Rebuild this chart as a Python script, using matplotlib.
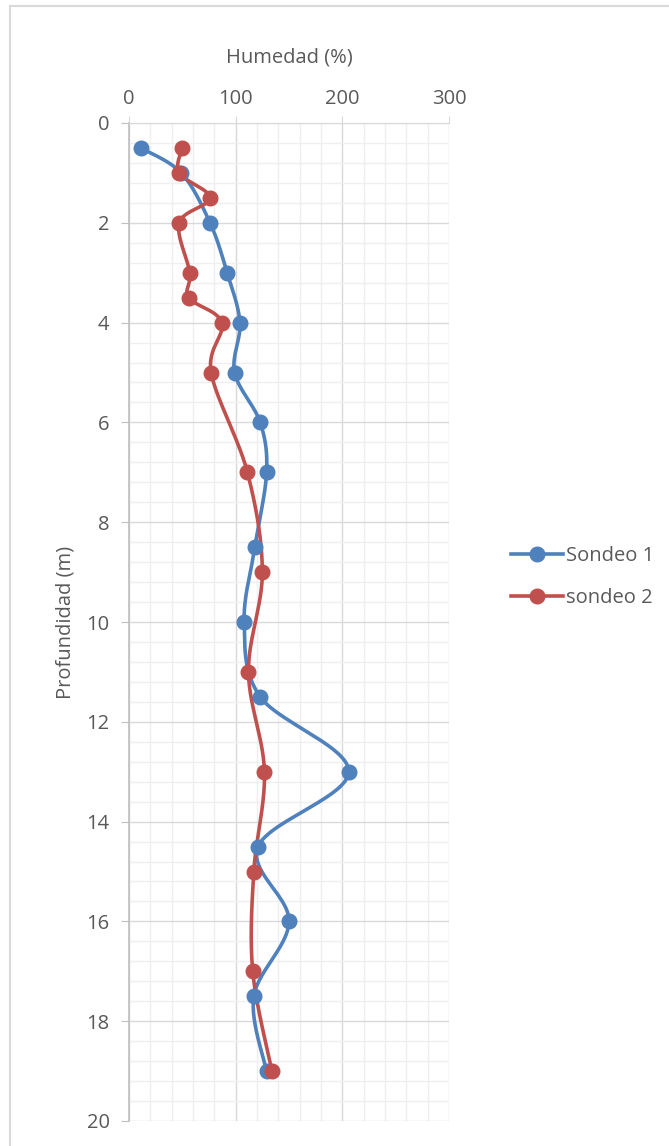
import numpy as np
import matplotlib
matplotlib.use("Agg")
import matplotlib.pyplot as plt
from matplotlib.ticker import MultipleLocator
from matplotlib.lines import Line2D

# Data
depth1 = [0.5, 1.0, 2.0, 3.0, 4.0, 5.0, 6.0, 7.0, 8.5, 10.0, 11.5, 13.0, 14.5, 16.0, 17.5, 19.0]
hum1 = [11, 49, 76, 92, 104, 99, 123, 129, 118, 108, 123, 206, 121, 150, 117, 129]
depth2 = [0.5, 1.0, 1.5, 2.0, 3.0, 3.5, 4.0, 5.0, 7.0, 9.0, 11.0, 13.0, 15.0, 17.0, 19.0]
hum2 = [50, 47, 76, 47, 57, 56, 87, 77, 111, 125, 112, 127, 117, 116, 134]
labels = ["Sondeo 1", "sondeo 2"]
colors = ["#4F81BD", "#C0504D"]

FONT = ["Open Sans", "DejaVu Sans"]
plt.rcParams['font.family'] = FONT
TXT = "#595959"
FS = 14.5

W, H = 669, 1146
fig = plt.figure(figsize=(W / 100, H / 100), dpi=100)
ax = fig.add_axes([129 / W, 1 - 1121 / H, (449 - 129) / W, (1121 - 123) / H])
ax.set_xlim(0, 300)
ax.set_ylim(20, 0)

# outer chart border (top & left visible)
fig.add_artist(Line2D([9.5 / W, 9.5 / W], [0, 1 - 5.5 / H], transform=fig.transFigure,
                      color="#D9D9D9", lw=1.5))
fig.add_artist(Line2D([9.5 / W, 1], [1 - 5.5 / H, 1 - 5.5 / H], transform=fig.transFigure,
                      color="#D9D9D9", lw=1.5))

ax.xaxis.set_major_locator(MultipleLocator(100))
ax.xaxis.set_minor_locator(MultipleLocator(20))
ax.yaxis.set_major_locator(MultipleLocator(2))
ax.yaxis.set_minor_locator(MultipleLocator(0.4))
ax.grid(which="major", color="#D9D9D9", lw=1.0)
ax.grid(which="minor", color="#EFEFEF", lw=1.0)
ax.set_axisbelow(True)
for s in ax.spines.values():
    s.set_visible(False)
ax.spines['left'].set_visible(True)
ax.spines['left'].set_color("#BFBFBF")
ax.spines['left'].set_linewidth(1.2)
ax.spines['top'].set_visible(True)
ax.spines['top'].set_color("#D9D9D9")

ax.xaxis.tick_top()
ax.xaxis.set_label_position("top")
ax.tick_params(axis="x", which="major", length=5, color="#D9D9D9", labelsize=FS, labelcolor=TXT, pad=5)
ax.tick_params(axis="y", which="major", length=6, color="#BFBFBF", labelsize=FS, labelcolor=TXT, pad=8)
ax.tick_params(which="minor", length=0)
ax.set_xlabel("Humedad (%)", fontsize=FS, color=TXT, labelpad=19)
ax.set_ylabel("Profundidad (m)", fontsize=FS, color=TXT, labelpad=8)


def smooth(xs, ys, n=30):
    # Catmull-Rom (Bezier, Excel-like) computed in display space
    pts = ax.transData.transform(np.column_stack([xs, ys]))
    out = []
    m = len(pts)
    for i in range(m - 1):
        p0 = pts[i - 1] if i > 0 else pts[i]
        p1 = pts[i]
        p2 = pts[i + 1]
        p3 = pts[i + 2] if i + 2 < m else pts[i + 1]
        c1 = p1 + (p2 - p0) / 6.0
        c2 = p2 - (p3 - p1) / 6.0
        t = np.linspace(0, 1, n)[:, None]
        seg = ((1 - t) ** 3) * p1 + 3 * ((1 - t) ** 2) * t * c1 + 3 * (1 - t) * t ** 2 * c2 + t ** 3 * p2
        out.append(seg if i == 0 else seg[1:])
    out = np.vstack(out)
    return ax.transData.inverted().transform(out)


handles = []
for xs, ys, lab, c in [(hum1, depth1, labels[0], colors[0]), (hum2, depth2, labels[1], colors[1])]:
    curve = smooth(xs, ys)
    ax.plot(curve[:, 0], curve[:, 1], color=c, lw=2.6, solid_capstyle="round", zorder=3)
    ax.plot(xs, ys, "o", color=c, ms=10.5, zorder=4)
    handles.append(Line2D([], [], color=c, lw=2.6, marker="o", ms=10.5))

leg = fig.legend(handles, labels, loc="center left", bbox_to_anchor=(493 / W, 1 - 577 / H),
                 frameon=False, fontsize=FS, handlelength=2.6, labelspacing=1.1,
                 handletextpad=0.1)
for t in leg.get_texts():
    t.set_color(TXT)

fig.savefig("out.png", dpi=100, facecolor="white")
